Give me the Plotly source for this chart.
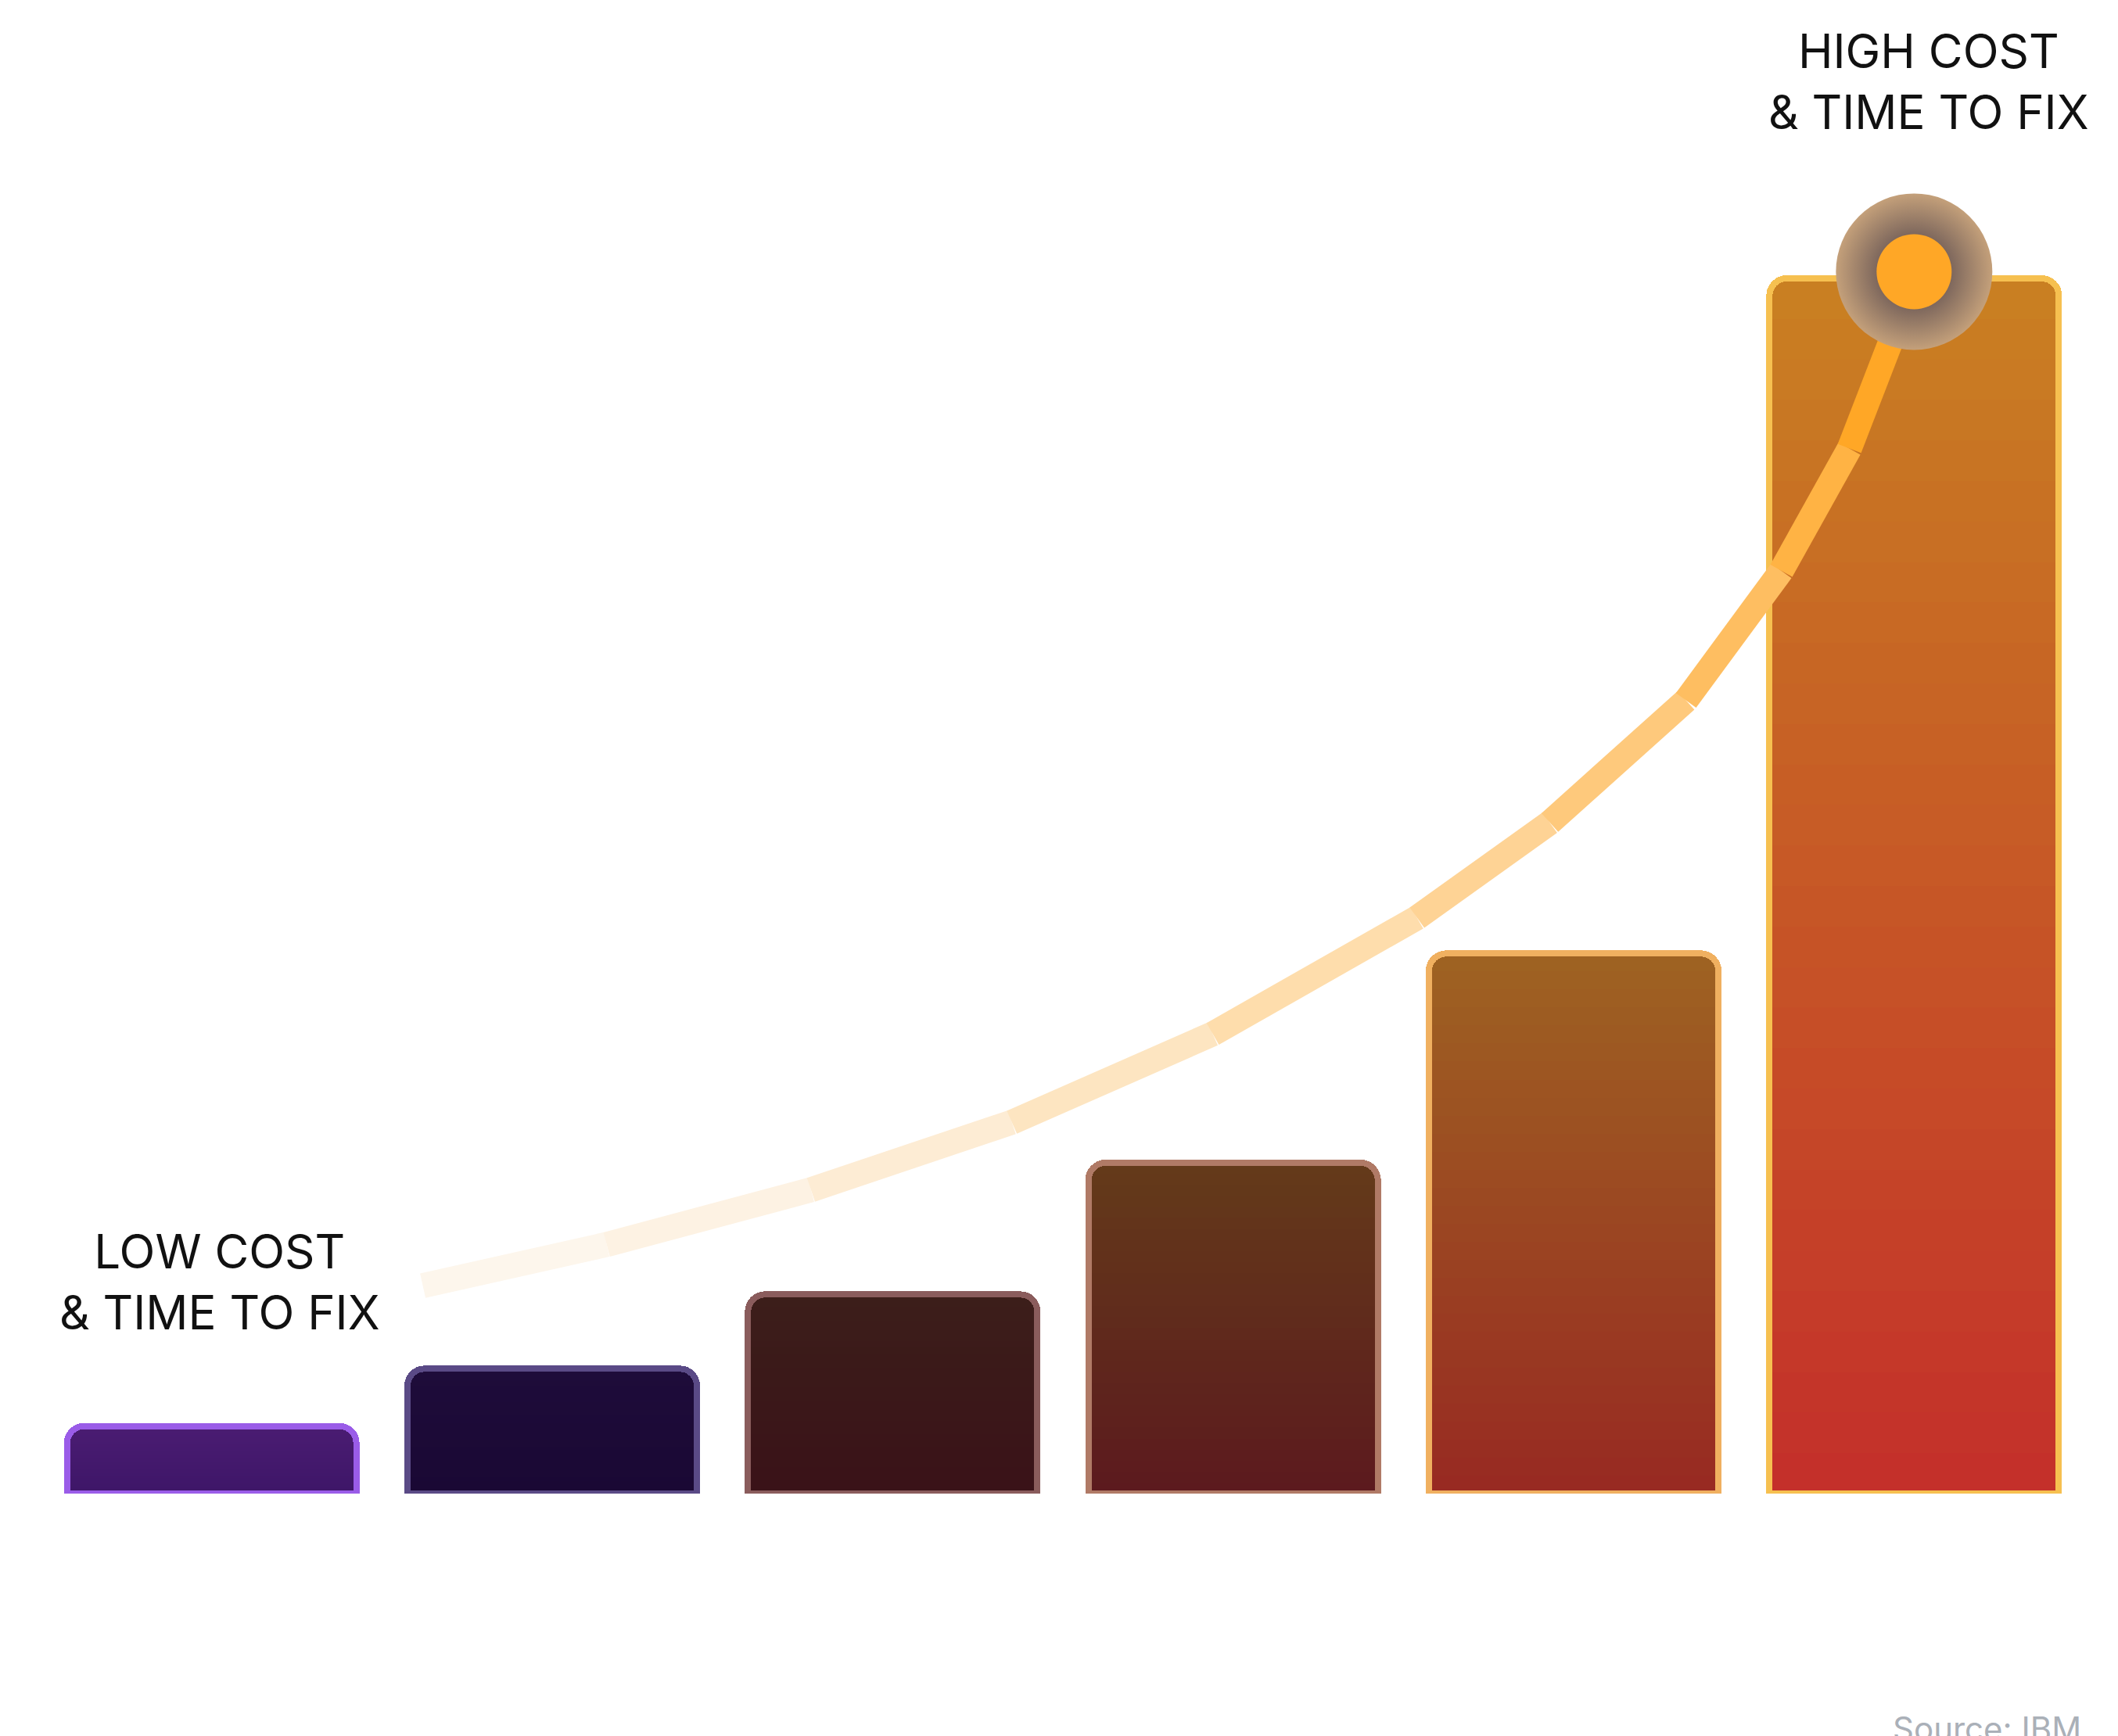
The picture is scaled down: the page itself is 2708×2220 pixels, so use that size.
import plotly.graph_objects as go

stages = [0, 1, 2, 3, 4, 5]
values = [1.0, 1.85, 2.95, 4.9, 8.0, 18.0]
top_colors = ["#4a1c72", "#1e0c3a", "#3c1e1a", "#643a1a", "#9e6222", "#c97f22"]
bot_colors = ["#3e1668", "#1a0834", "#3a1218", "#5c1a1e", "#982a22", "#c4302a"]
edge_colors = ["#9a5ce8", "#5a4a86", "#8a5c5c", "#b07a66", "#f0b060", "#f6c050"]
curve_x = [0.62, 1.16, 1.76, 2.35, 2.94, 3.54, 3.93, 4.33, 4.61, 4.81, 4.98]
curve_y = [3.08, 3.69, 4.50, 5.50, 6.81, 8.53, 9.94, 11.75, 13.67, 15.48, 17.70]
peak_x, peak_y = 5.0, 18.1

def hx(c):
    return [int(c[i:i+2], 16) for i in (1, 3, 5)]

def mix(a, b, t):
    A, B = hx(a), hx(b)
    return "rgb(%d,%d,%d)" % tuple(round(A[i] + (B[i] - A[i]) * t) for i in range(3))

fig = go.Figure()
N = 30
for k in range(N):
    t = k / (N - 1)
    fig.add_trace(go.Bar(
        x=stages, y=[v / N for v in values],
        marker=dict(color=[mix(bot_colors[i], top_colors[i], t) for i in range(6)], line=dict(width=0)),
        width=0.85, showlegend=False, hoverinfo="skip"))
fig.add_trace(go.Bar(
    x=stages, y=values, xaxis="x2", yaxis="y2",
    marker=dict(color="rgba(0,0,0,0)", line=dict(color=edge_colors, width=8)),
    width=0.85, showlegend=False, hoverinfo="skip"))

nseg = len(curve_x) - 1
for s in range(nseg):
    t = s / (nseg - 1)
    fig.add_trace(go.Scatter(
        x=curve_x[s:s+2], y=curve_y[s:s+2], mode="lines", xaxis="x2", yaxis="y2",
        line=dict(color=mix("#fdf6ec", "#ffa726", t ** 1.4), width=32),
        showlegend=False, hoverinfo="skip"))
fig.add_trace(go.Scatter(
    x=[peak_x], y=[peak_y], mode="markers", xaxis="x2", yaxis="y2",
    marker=dict(size=200, color="#c4a07a", gradient=dict(type="radial", color="#3e3442")),
    showlegend=False, hoverinfo="skip"))
fig.add_trace(go.Scatter(
    x=[peak_x], y=[peak_y], mode="markers", xaxis="x2", yaxis="y2",
    marker=dict(size=96, color="#ffa726"), showlegend=False, hoverinfo="skip"))

L, R, T, B = 45, 51, 0, 318
PW, PH = 2708 - L - R, 2220 - T - B
ax = dict(visible=False, range=[-0.5, 5.5], fixedrange=True)
ay = dict(visible=False, range=[0, PH / 86.33], fixedrange=True)

def px(xp, yp):
    return (xp - L) / PW, (2220 - yp - B) / PH

a1 = px(2458, 96); a2 = px(273, 1631); a3 = px(2655, 2202)
fig.update_layout(
    width=2708, height=2220, barmode="stack", barcornerradius=22,
    margin=dict(l=L, r=R, t=T, b=B),
    paper_bgcolor="white", plot_bgcolor="white",
    xaxis=ax, yaxis=ay,
    xaxis2=dict(ax, overlaying="x"), yaxis2=dict(ay, overlaying="y"),
    font=dict(family="Inter, Roboto, sans-serif"),
    annotations=[
        dict(text="HIGH COST<br>& TIME TO FIX", x=a1[0], y=a1[1], xref="paper", yref="paper",
             xanchor="center", yanchor="middle", showarrow=False,
             font=dict(size=60, color="#111"), align="center"),
        dict(text="LOW COST<br>& TIME TO FIX", x=a2[0], y=a2[1], xref="paper", yref="paper",
             xanchor="center", yanchor="middle", showarrow=False,
             font=dict(size=60, color="#111"), align="center"),
        dict(text="Source: IBM", x=a3[0], y=a3[1], xref="paper", yref="paper",
             xanchor="right", yanchor="middle", showarrow=False,
             font=dict(size=42, color="#aab0b8")),
    ])
fig.write_html("out.html")
